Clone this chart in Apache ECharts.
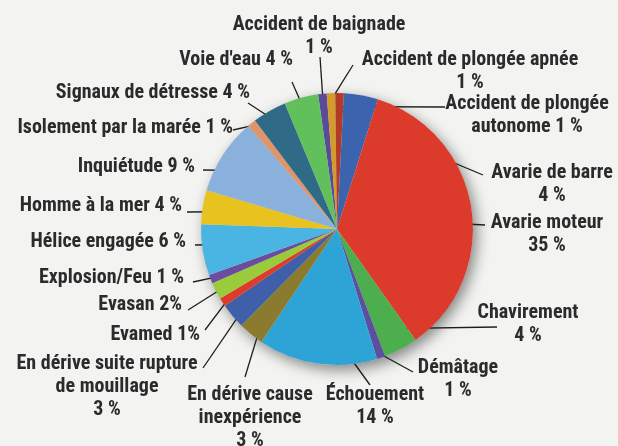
<!DOCTYPE html>
<html>
<head>
<meta charset="utf-8">
<script src="https://cdn.jsdelivr.net/npm/echarts@6/dist/echarts.min.js"></script>
<style>
html, body { margin: 0; padding: 0; background: #f3f3f1; }
#chart { width: 618px; height: 446px; }
</style>
</head>
<body>
<div id="chart"></div>
<script>
// categories, clockwise from the top
var categories = ['Accident de baignade', 'Accident de plongée apnée', 'Accident de plongée autonome',
	'Avarie de barre', 'Avarie moteur', 'Chavirement', 'Démâtage', 'Échouement',
	'En dérive cause inexpérience', 'En dérive suite rupture de mouillage', 'Evamed', 'Evasan',
	'Explosion/Feu', 'Hélice engagée', 'Homme à la mer', 'Inquiétude', 'Isolement par la marée',
	'Signaux de détresse', "Voie d'eau"];
var percents = [1, 1, 1, 4, 35, 4, 1, 14, 3, 3, 1, 2, 1, 6, 4, 9, 1, 4, 4];
// label text, {v} = value
var labelTexts = ['Accident de baignade\n{v} %', 'Accident de plongée apnée\n{v} %', 'Accident de plongée\nautonome {v} %',
	'Avarie de barre\n{v} %', 'Avarie moteur\n{v} %', 'Chavirement\n{v} %', 'Démâtage\n{v} %', 'Échouement\n{v} %',
	'En dérive cause\ninexpérience\n{v} %', 'En dérive suite rupture\nde mouillage\n{v} %', 'Evamed {v}%', 'Evasan {v}%',
	'Explosion/Feu {v} %', 'Hélice engagée {v} %', 'Homme à la mer {v} %', 'Inquiétude {v} %', 'Isolement par la marée {v} %',
	'Signaux de détresse {v} %', "Voie d'eau {v} %"];

var colors = ['#5a4b9a', '#d39b2c', '#b33a26', '#3c63ad', '#dc3b2b', '#4cae4c', '#5b4fa0', '#2ea4d6',
	'#8b7b2e', '#3f5fa9', '#df3b2b', '#9acb3a', '#6b4c9e', '#4ab4e2', '#e8c21e', '#8ab0dc', '#e0946a',
	'#2f6a86', '#62c05c'];

// label placement: [x, y, align], y = first line middle
var labelSpots = [
	[319, 25, 'center'], [470, 60, 'center'], [527, 104, 'center'], [552, 173, 'center'],
	[547, 223, 'center'], [528, 313, 'center'], [458, 368, 'center'], [375, 395, 'center'],
	[250, 395, 'center'], [107, 364, 'center'], [200, 335, 'right'], [182, 305, 'right'],
	[184, 278, 'right'], [186, 242, 'right'], [182, 206, 'right'], [195, 167, 'right'],
	[233, 128, 'right'], [250, 93, 'right'], [293, 60, 'right']
];
// where the leader line meets the label
var lineEnds = [
	[320, 57], [353, 65], [445, 107], [483, 175], [485, 225], [497, 327], [413, 372], [370, 385],
	[245, 377], [203, 368], [205, 330], [188, 310], [193, 282], [195, 245], [187, 212], [203, 170],
	[233, 130], [248, 103], [292, 82]
];
// how deep into the slice the leader line starts (fraction of radius)
var lineDepth = [0.97, 0.95, 0.9, 0.8, 0.42, 0.83, 0.97, 0.68, 0.87, 0.87, 0.94, 0.9, 0.96,
	0.73, 0.79, 0.79, 0.98, 0.92, 0.9];

var CX = 337, CY = 229, R = 136, START = 98, LINE_H = 23;

// pick a condensed bold face if one is installed, else scale a normal one
var fontStyle = 'normal', fontFamily = '"Liberation Sans", Arial, sans-serif', fontSize = 17;
(function() {
	var ctx = document.createElement('canvas').getContext('2d');
	var probe = 'Accident de baignade', target = 173;
	function width(font) {
		ctx.font = font;
		return ctx.measureText(probe).width;
	}
	function installed(fam) {
		return width('bold 20px ' + fam + ', monospace') !== width('bold 20px monospace');
	}
	var fams = ['Roboto', '"DejaVu Sans"', '"Noto Sans"', '"Open Sans"'];
	for (var k = 0; k < fams.length; k++) {
		if (!installed(fams[k])) continue;
		var wc = width('condensed bold 20px ' + fams[k]);
		var wn = width('bold 20px ' + fams[k]);
		if (wc < wn * 0.93) {
			fontStyle = 'condensed';
			fontFamily = fams[k];
			fontSize = Math.round(20 * target / wc * 2) / 2;
			return;
		}
	}
	var narrow = ['"Liberation Sans Narrow"', '"DejaVu Sans Condensed"'];
	for (var k = 0; k < narrow.length; k++) {
		if (installed(narrow[k])) {
			fontFamily = narrow[k];
			fontSize = Math.round(20 * target / width('bold 20px ' + narrow[k]) * 2) / 2;
			return;
		}
	}
	fontSize = Math.round(20 * target / width('bold 20px ' + fontFamily) * 2) / 2;
})();

var myChart = echarts.init(document.getElementById('chart'));

var pieData = [];
for (var i = 0; i < categories.length; i++) {
	pieData.push({
		name: categories[i],
		value: percents[i],
		itemStyle: { color: colors[i] }
	});
}

var total = 0;
for (var i = 0; i < percents.length; i++) total += percents[i];

function midAngle(idx) {
	var cum = 0;
	for (var i = 0; i < idx; i++) cum += percents[i];
	return (START - (cum + percents[idx] / 2) / total * 360) * Math.PI / 180;
}

option = {
	backgroundColor: '#f3f3f1',
	animation: false,
	series: [{
		// backdrop disc for the drop shadow
		type: 'pie',
		silent: true,
		z: 1,
		center: [CX, CY],
		radius: R,
		label: { show: false },
		labelLine: { show: false },
		itemStyle: {
			color: '#dddddd',
			shadowBlur: 14,
			shadowOffsetX: 4,
			shadowOffsetY: 5,
			shadowColor: 'rgba(0,0,0,0.45)'
		},
		data: [1]
	}, {
		type: 'pie',
		z: 2,
		center: [CX, CY],
		radius: R,
		startAngle: START,
		clockwise: true,
		avoidLabelOverlap: false,
		itemStyle: { borderWidth: 0 },
		label: {
			show: true,
			position: 'outside',
			formatter: function(p) {
				return labelTexts[p.dataIndex].replace('{v}', p.value);
			},
			fontStyle: fontStyle,
			fontFamily: fontFamily,
			fontWeight: 'bold',
			fontSize: fontSize,
			lineHeight: LINE_H,
			color: '#2b2b2b'
		},
		labelLine: {
			show: true,
			lineStyle: { color: '#1e1e1e', width: 1.3 }
		},
		labelLayout: function(p) {
			var i = p.dataIndex;
			var s = labelSpots[i];
			var a = midAngle(i);
			var d = lineDepth[i] * R;
			var start = [CX + d * Math.cos(a), CY - d * Math.sin(a)];
			return {
				x: s[0],
				y: s[2] === 'center' ? s[1] - LINE_H / 2 : s[1],
				align: s[2],
				verticalAlign: s[2] === 'center' ? 'top' : 'middle',
				labelLinePoints: [start, lineEnds[i], lineEnds[i]]
			};
		},
		data: pieData
	}]
};

myChart.setOption(option);
</script>
</body>
</html>
